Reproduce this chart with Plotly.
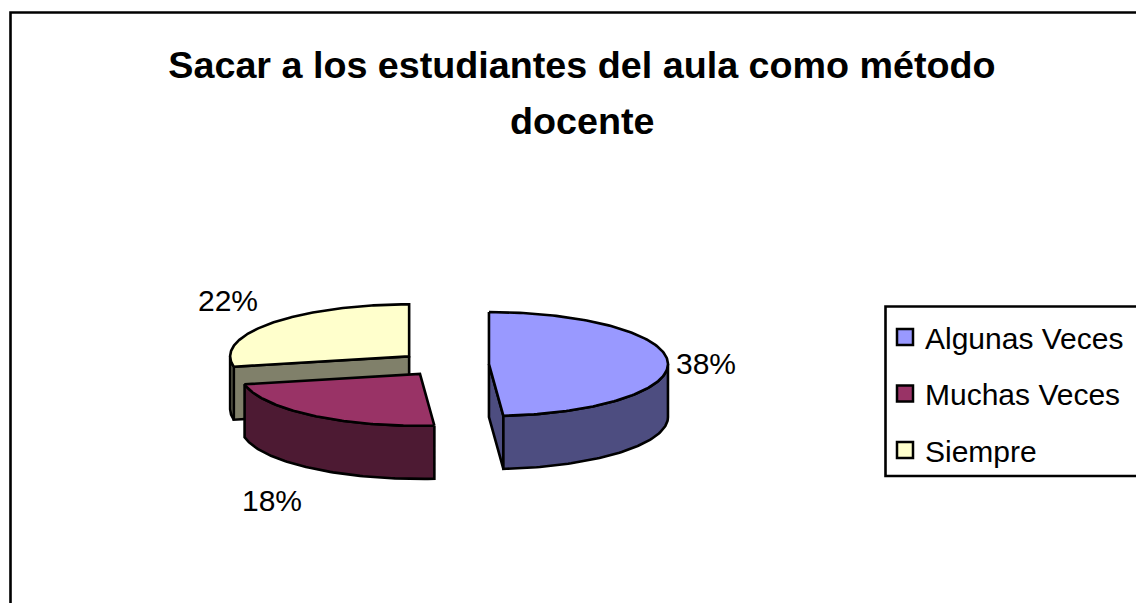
import numpy as np
import plotly.graph_objects as go

# Data
categories = ["Algunas Veces", "Muchas Veces", "Siempre"]
values = [38, 18, 22]
top_colors = ["#9999FF", "#993366", "#FFFFCC"]
wall_colors = ["#4D4D80", "#4D1A33", "#80806A"]
title_lines = ["Sacar a los estudiantes del aula como método", "docente"]

# 3-D pie projection (radius = 1 axis unit)
W, H = 1136, 603
R_PX = 179.0
CX, CY = 444.0, 364.6
SQUASH = 52.0 / 179.0
DEPTH = 53.0 / 179.0
EXPLODE = [45.0 / 179.0, 40.0 / 179.0, 45.0 / 179.0]
FONT = "Liberation Sans, Arial, sans-serif"

fractions = np.array(values, dtype=float) / sum(values)
edges = np.concatenate([[0.0], np.cumsum(fractions)]) * 2 * np.pi


def rim(cx, cy, ang):
    return cx + np.sin(ang), cy + SQUASH * np.cos(ang)


def closed_trace(x, y, color):
    return go.Scatter(
        x=np.append(x, x[0]), y=np.append(y, y[0]), mode="lines", fill="toself",
        fillcolor=color, line=dict(color="black", width=2.6), hoverinfo="skip",
        showlegend=False,
    )


slices = []
for i in range(len(values)):
    a0, a1 = edges[i], edges[i + 1]
    mid = (a0 + a1) / 2
    cx = EXPLODE[i] * np.sin(mid)
    cy = SQUASH * EXPLODE[i] * np.cos(mid)
    slices.append((i, a0, a1, mid, cx, cy))

fig = go.Figure()
# painted back to front: Siempre, Muchas Veces, Algunas Veces
for i, a0, a1, mid, cx, cy in [slices[2], slices[1], slices[0]]:
    # cut face looking towards the viewer
    for a, sign in ((a0, 1), (a1, -1)):
        normal = a - sign * np.pi / 2
        if np.cos(normal) < -0.02:
            rx, ry = rim(cx, cy, a)
            fig.add_trace(closed_trace(
                np.array([cx, rx, rx, cx]),
                np.array([cy, ry, ry - DEPTH, cy - DEPTH]), wall_colors[i]))
    # outer wall (front half of the ellipse only)
    lo, hi = max(a0, np.pi / 2), min(a1, 3 * np.pi / 2)
    if hi > lo:
        t = np.linspace(lo, hi, 80)
        rx, ry = rim(cx, cy, t)
        fig.add_trace(closed_trace(
            np.concatenate([rx, rx[::-1]]),
            np.concatenate([ry, ry[::-1] - DEPTH]), wall_colors[i]))
    # top face
    t = np.linspace(a0, a1, 160)
    rx, ry = rim(cx, cy, t)
    fig.add_trace(closed_trace(np.append(rx, cx), np.append(ry, cy), top_colors[i]))

# legend entries
for name, color in zip(categories, top_colors):
    fig.add_trace(go.Scatter(
        x=[None], y=[None], mode="markers", name=name, legendgroup=name,
        marker=dict(symbol="square", size=16, color=color,
                    line=dict(color="black", width=2.5)),
        hoverinfo="skip",
    ))

# value labels: anchored at the rim point of each slice's bisector
label_shift = [(38, -2), (-40, -85), (-42, 23)]
for (i, a0, a1, mid, cx, cy), (dx, dy) in zip(slices, label_shift):
    rx, ry = rim(cx, cy, mid)
    fig.add_annotation(x=rx, y=ry, text=f"{values[i]}%", showarrow=False,
                       xshift=dx, yshift=dy,
                       font=dict(family=FONT, size=30, color="black"))

fig.add_annotation(x=582 / W, y=1 - 121 / H, xref="paper", yref="paper",
                   xanchor="center", yanchor="middle",
                   text=f"<b>{title_lines[1]}</b>", showarrow=False,
                   font=dict(family=FONT, size=37.7, color="black"))

# chart frame and legend box run off the right/bottom of the canvas
fig.add_shape(type="rect", xref="paper", yref="paper", x0=10.5 / W, x1=1.05,
              y0=-0.05, y1=1 - 12.5 / H, line=dict(color="black", width=2.6),
              fillcolor="rgba(0,0,0,0)", layer="below")
fig.add_shape(type="rect", xref="paper", yref="paper", x0=885.5 / W, x1=1.05,
              y0=1 - 476 / H, y1=1 - 306.5 / H, line=dict(color="black", width=2.6),
              fillcolor="white", layer="below")

fig.update_layout(
    width=W, height=H, margin=dict(l=0, r=0, t=0, b=0),
    paper_bgcolor="white", plot_bgcolor="rgba(0,0,0,0)",
    title=dict(text=f"<b>{title_lines[0]}</b>", x=582 / W, xanchor="center",
               xref="paper", y=1 - 65 / H, yanchor="middle", yref="paper",
               font=dict(family=FONT, size=37.7, color="black")),
    xaxis=dict(range=[-CX / R_PX, (W - CX) / R_PX], visible=False, fixedrange=True),
    yaxis=dict(range=[(CY - H) / R_PX, CY / R_PX], visible=False, fixedrange=True),
    legend=dict(x=885 / W, xanchor="left", y=1 - 311 / H, yanchor="top",
                bgcolor="rgba(0,0,0,0)", borderwidth=0, tracegroupgap=14.5,
                itemsizing="trace", itemclick=False, itemdoubleclick=False,
                font=dict(family=FONT, size=30, color="black")),
    showlegend=True,
)
fig.write_html("out.html", config={"displayModeBar": False},
               post_script="document.body.style.margin='0';document.documentElement.style.overflow='hidden';")
